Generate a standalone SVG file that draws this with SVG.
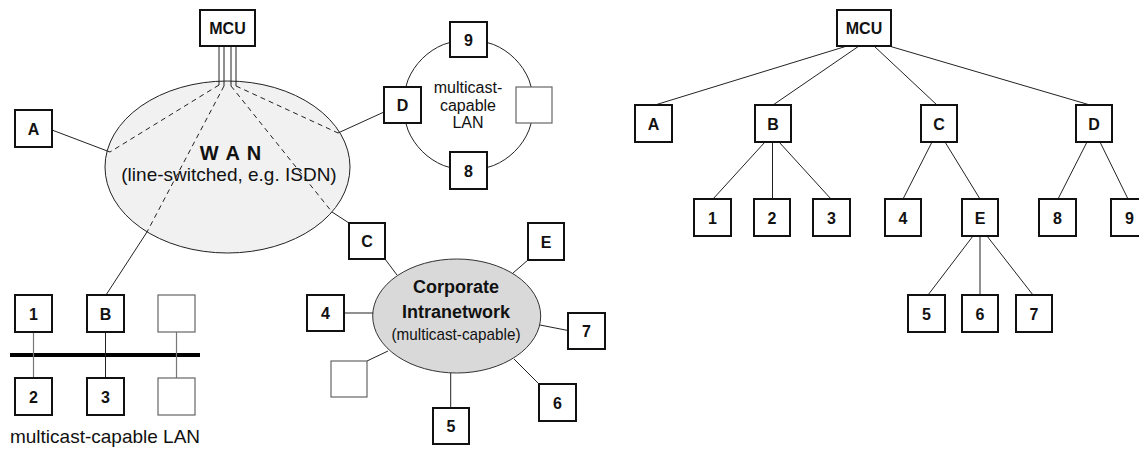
<svg xmlns="http://www.w3.org/2000/svg" width="1139" height="449" viewBox="0 0 1139 449">
  <style>
    text { font-family: "Liberation Sans", Arial, sans-serif; fill: #111; text-anchor: middle; }
    .lbl { font-size: 16px; font-weight: bold; }
    .box { fill: #fff; stroke: #111; stroke-width: 2; }
    .blank { fill: #fff; stroke: #666; stroke-width: 1.2; }
    .ln { stroke: #222; stroke-width: 1; fill: none; }
    .gray { stroke: #777; stroke-width: 1.2; fill: none; }
    .dash { stroke: #222; stroke-width: 1; fill: none; stroke-dasharray: 5 4; }
    .bus { stroke: #000; stroke-width: 4; }
  </style>

  <!-- networks (clouds and ring) -->
  <g id="wan">
    <ellipse cx="227.5" cy="167" rx="122.5" ry="86" fill="#f1f1f1" stroke="#222" stroke-width="1"/>
    <text x="231" y="160" style="font-size:20px;font-weight:bold;letter-spacing:1px">W A N</text>
    <text x="229" y="181" style="font-size:19px">(line-switched, e.g. ISDN)</text>
  </g>
  <g id="ring-lan">
    <circle cx="468.5" cy="105" r="65.5" fill="none" stroke="#222" stroke-width="1"/>
    <text x="468" y="93" style="font-size:16px">multicast-</text>
    <text x="468" y="110.5" style="font-size:16px">capable</text>
    <text x="468" y="128" style="font-size:16px">LAN</text>
  </g>
  <g id="intranet">
    <ellipse cx="456.7" cy="316" rx="84" ry="57" fill="#d9d9d9" stroke="#333" stroke-width="1"/>
    <text x="456" y="293" style="font-size:18px;font-weight:bold">Corporate</text>
    <text x="456" y="318" style="font-size:18px;font-weight:bold">Intranetwork</text>
    <text x="456" y="340" style="font-size:17px" textLength="129" lengthAdjust="spacingAndGlyphs">(multicast-capable)</text>
  </g>
  <g id="bus-lan">
    <line class="bus" x1="10" y1="355" x2="200" y2="355"/>
    <text x="105" y="443" style="font-size:19px">multicast-capable LAN</text>
  </g>

  <!-- connectors -->
  <g id="connectors">
    <!-- MCU trunk into the WAN -->
    <line class="ln" x1="219" y1="46" x2="219" y2="85"/>
    <line class="ln" x1="224" y1="46" x2="224" y2="86"/>
    <line class="ln" x1="231" y1="46" x2="231" y2="86"/>
    <line class="ln" x1="236" y1="46" x2="236" y2="86"/>
    <!-- switched circuits through the WAN -->
    <line class="dash" x1="219" y1="85" x2="110" y2="152"/>
    <line class="dash" x1="224" y1="86" x2="147" y2="232"/>
    <line class="dash" x1="231" y1="86" x2="332" y2="212"/>
    <line class="dash" x1="236" y1="86" x2="338" y2="133"/>
    <!-- access links -->
    <line class="ln" x1="52" y1="130" x2="110" y2="152"/>
    <line class="ln" x1="147" y1="232" x2="106" y2="295"/>
    <line class="ln" x1="332" y1="212" x2="349" y2="223"/>
    <line class="ln" x1="338" y1="133" x2="384" y2="112"/>
    <!-- bus drops -->
    <line class="gray" x1="33.5" y1="332" x2="33.5" y2="378"/>
    <line class="ln" x1="105.5" y1="332" x2="105.5" y2="378"/>
    <line class="gray" x1="176.5" y1="332" x2="176.5" y2="378"/>
    <!-- intranet spokes -->
    <line class="ln" x1="385" y1="259" x2="397" y2="275"/>
    <line class="ln" x1="528" y1="260" x2="513" y2="273"/>
    <line class="ln" x1="344" y1="313" x2="373" y2="313"/>
    <line class="ln" x1="540" y1="325" x2="568" y2="330.5"/>
    <line class="ln" x1="367" y1="361" x2="388" y2="351"/>
    <line class="ln" x1="450.7" y1="373" x2="450.7" y2="408"/>
    <line class="ln" x1="539" y1="384" x2="514" y2="359"/>
    <!-- distribution tree -->
    <line class="ln" x1="847" y1="46" x2="655" y2="105"/>
    <line class="ln" x1="859" y1="46" x2="773" y2="105"/>
    <line class="ln" x1="874" y1="46" x2="937" y2="105"/>
    <line class="ln" x1="889" y1="46" x2="1090" y2="105"/>
    <line class="ln" x1="765" y1="142" x2="713" y2="199"/>
    <line class="ln" x1="772.5" y1="142" x2="772.5" y2="199"/>
    <line class="ln" x1="779" y1="142" x2="831" y2="199"/>
    <line class="ln" x1="932" y1="142" x2="903" y2="199"/>
    <line class="ln" x1="945" y1="142" x2="980" y2="199"/>
    <line class="ln" x1="1087" y1="142" x2="1058" y2="199"/>
    <line class="ln" x1="1100" y1="142" x2="1128" y2="199"/>
    <line class="ln" x1="973" y1="236" x2="928" y2="295"/>
    <line class="ln" x1="980" y1="236" x2="980" y2="295"/>
    <line class="ln" x1="987" y1="236" x2="1033" y2="295"/>
  </g>

  <!-- topology nodes -->
  <g id="mcu-l"><rect class="box" x="200" y="10" width="55" height="36"/><text class="lbl" x="227.5" y="34">MCU</text></g>
  <g id="a-l"><rect class="box" x="15" y="110" width="37" height="37"/><text class="lbl" x="33.5" y="134.5">A</text></g>
  <g id="d-l"><rect class="box" x="384" y="87" width="37" height="36"/><text class="lbl" x="402.5" y="111">D</text></g>
  <g id="n9-l"><rect class="box" x="450" y="22" width="37" height="35"/><text class="lbl" x="468.5" y="45.5">9</text></g>
  <g id="n8-l"><rect class="box" x="450" y="152" width="37" height="37"/><text class="lbl" x="468.5" y="176.5">8</text></g>
  <g id="ring-host"><rect class="blank" x="516" y="87" width="36" height="36"/></g>
  <g id="c-l"><rect class="box" x="349" y="223" width="36" height="36"/><text class="lbl" x="367" y="247">C</text></g>
  <g id="e-l"><rect class="box" x="528" y="223" width="36" height="37"/><text class="lbl" x="546" y="247.5">E</text></g>
  <g id="n4-l"><rect class="box" x="307" y="295" width="37" height="36"/><text class="lbl" x="325.5" y="319">4</text></g>
  <g id="n7-l"><rect class="box" x="568" y="313" width="37" height="36"/><text class="lbl" x="586.5" y="337">7</text></g>
  <g id="intranet-host"><rect class="blank" x="331" y="361" width="36" height="36"/></g>
  <g id="n5-l"><rect class="box" x="433" y="408" width="36" height="36"/><text class="lbl" x="451" y="432">5</text></g>
  <g id="n6-l"><rect class="box" x="539" y="384" width="37" height="37"/><text class="lbl" x="557.5" y="408.5">6</text></g>
  <g id="n1-l"><rect class="box" x="15" y="295" width="37" height="37"/><text class="lbl" x="33.5" y="319.5">1</text></g>
  <g id="b-l"><rect class="box" x="87" y="295" width="37" height="37"/><text class="lbl" x="105.5" y="319.5">B</text></g>
  <g id="bus-host-top"><rect class="blank" x="158" y="295" width="37" height="37"/></g>
  <g id="n2-l"><rect class="box" x="15" y="378" width="37" height="37"/><text class="lbl" x="33.5" y="402.5">2</text></g>
  <g id="n3-l"><rect class="box" x="87" y="378" width="37" height="37"/><text class="lbl" x="105.5" y="402.5">3</text></g>
  <g id="bus-host-bottom"><rect class="blank" x="158" y="378" width="37" height="37"/></g>

  <!-- distribution tree nodes -->
  <g id="mcu-t"><rect class="box" x="837" y="10" width="54" height="36"/><text class="lbl" x="864" y="34">MCU</text></g>
  <g id="a-t"><rect class="box" x="635" y="105" width="37" height="37"/><text class="lbl" x="653.5" y="129.5">A</text></g>
  <g id="b-t"><rect class="box" x="755" y="105" width="36" height="37"/><text class="lbl" x="773" y="129.5">B</text></g>
  <g id="c-t"><rect class="box" x="921" y="105" width="36" height="37"/><text class="lbl" x="939" y="129.5">C</text></g>
  <g id="d-t"><rect class="box" x="1076" y="105" width="36" height="37"/><text class="lbl" x="1094" y="129.5">D</text></g>
  <g id="n1-t"><rect class="box" x="694" y="199" width="37" height="37"/><text class="lbl" x="712.5" y="223.5">1</text></g>
  <g id="n2-t"><rect class="box" x="754" y="199" width="36" height="37"/><text class="lbl" x="772" y="223.5">2</text></g>
  <g id="n3-t"><rect class="box" x="813" y="199" width="37" height="37"/><text class="lbl" x="831.5" y="223.5">3</text></g>
  <g id="n4-t"><rect class="box" x="885" y="199" width="36" height="37"/><text class="lbl" x="903" y="223.5">4</text></g>
  <g id="e-t"><rect class="box" x="962" y="199" width="36" height="37"/><text class="lbl" x="980" y="223.5">E</text></g>
  <g id="n8-t"><rect class="box" x="1039" y="199" width="37" height="37"/><text class="lbl" x="1057.5" y="223.5">8</text></g>
  <g id="n9-t"><rect class="box" x="1111" y="199" width="37" height="37"/><text class="lbl" x="1129.5" y="223.5">9</text></g>
  <g id="n5-t"><rect class="box" x="908" y="295" width="37" height="37"/><text class="lbl" x="926.5" y="319.5">5</text></g>
  <g id="n6-t"><rect class="box" x="962" y="295" width="36" height="37"/><text class="lbl" x="980" y="319.5">6</text></g>
  <g id="n7-t"><rect class="box" x="1016" y="295" width="36" height="37"/><text class="lbl" x="1034" y="319.5">7</text></g>
</svg>
